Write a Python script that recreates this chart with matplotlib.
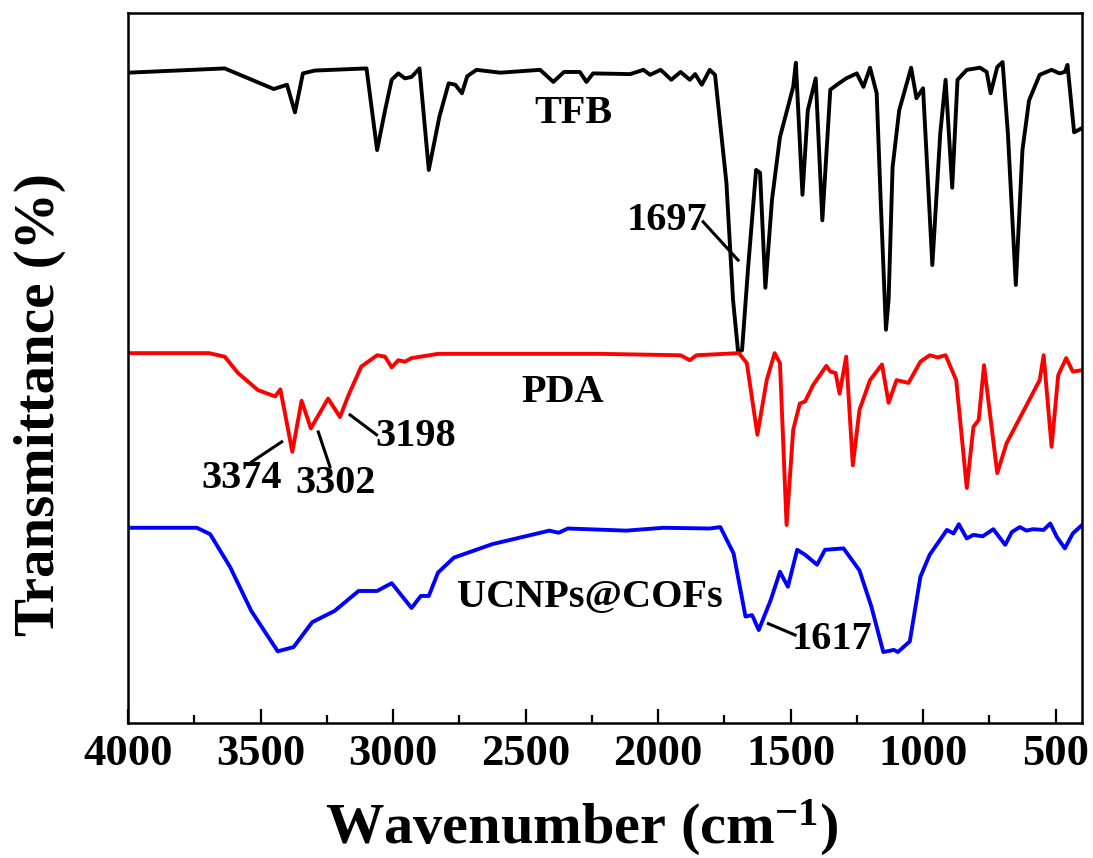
import matplotlib
matplotlib.use("Agg")
import matplotlib.pyplot as plt
from matplotlib.ticker import MultipleLocator

plt.rcParams['font.family'] = ['Liberation Serif', 'DejaVu Serif']
plt.rcParams['font.weight'] = 'bold'
plt.rcParams['mathtext.fontset'] = 'custom'
plt.rcParams['mathtext.rm'] = 'Liberation Serif:bold'
plt.rcParams['mathtext.default'] = 'rm'

# spectra (wavenumber in cm-1, transmittance with offsets, a.u.)
tfb_wn = [4000, 3635, 3450, 3400, 3370, 3340, 3295, 3100, 3060, 3030, 3005, 2980, 2955,
          2930, 2900, 2865, 2825, 2790, 2765, 2740, 2720, 2685, 2595, 2445, 2395, 2355,
          2295, 2270, 2245, 2105, 2055, 2030, 1990, 1950, 1915, 1880, 1860, 1835, 1805,
          1785, 1742, 1717, 1698, 1683, 1660, 1630, 1615, 1595, 1570, 1540, 1490, 1480,
          1455, 1435, 1405, 1380, 1350, 1325, 1290, 1250, 1225, 1200, 1175, 1160, 1140,
          1130, 1115, 1090, 1045, 1025, 1000, 965, 935, 915, 890, 870, 835, 785, 760,
          745, 720, 700, 680, 650, 625, 600, 560, 515, 485, 465, 455, 430, 400]
tfb_t = [91.6, 92.2, 89.3, 89.9, 86.0, 91.5, 91.9, 92.2, 80.7, 86.3, 90.6, 91.5, 90.8,
         91.0, 92.2, 77.9, 85.4, 90.1, 89.9, 88.7, 91.1, 92.0, 91.6, 92.0, 90.3, 91.7,
         91.7, 90.3, 91.5, 91.4, 92.0, 91.3, 92.0, 90.6, 91.7, 90.6, 91.4, 89.9, 92.0,
         91.3, 76.1, 59.6, 52.3, 52.5, 64.2, 77.9, 77.5, 61.3, 73.7, 82.5, 89.6, 93.0,
         74.4, 86.3, 90.8, 70.8, 89.2, 89.9, 90.8, 91.5, 89.6, 92.3, 88.7, 73.7, 55.4,
         59.6, 78.3, 86.3, 92.3, 88.0, 89.4, 64.5, 83.1, 90.6, 75.4, 90.6, 92.0, 92.3, 91.7,
         88.7, 92.4, 93.1, 83.1, 61.7, 80.7, 87.7, 91.3, 92.0, 91.5, 91.7, 92.7, 83.2, 83.8]

pda_wn = [4000, 3695, 3635, 3585, 3510, 3445, 3425, 3380, 3345, 3310, 3245, 3200, 3170,
          3120, 3060, 3030, 3005, 2980, 2955, 2930, 2830, 2565, 2220, 1915, 1880, 1855,
          1695, 1665, 1625, 1590, 1560, 1540, 1515, 1490, 1465, 1445, 1415, 1365, 1350,
          1330, 1315, 1290, 1265, 1240, 1200, 1155, 1130, 1100, 1055, 1010, 975, 945, 915,
          875, 835, 810, 790, 770, 720, 685, 560, 545, 515, 490, 460, 435, 400]
pda_t = [52.1, 52.1, 51.6, 49.3, 46.9, 46.0, 47.0, 38.2, 45.4, 41.5, 45.7, 43.1, 46.0,
         50.2, 51.8, 51.6, 50.1, 51.1, 50.9, 51.4, 52.0, 52.0, 52.0, 51.8, 51.1, 51.8,
         52.1, 50.7, 40.6, 48.3, 52.1, 50.7, 27.9, 41.3, 45.0, 45.3, 47.6, 50.3, 49.5,
         49.3, 46.4, 51.6, 36.3, 44.1, 48.3, 50.5, 45.1, 48.3, 47.9, 50.9, 51.8, 51.5, 51.8,
         48.3, 33.1, 41.7, 42.7, 50.4, 35.2, 39.4, 48.3, 51.8, 38.9, 49.0, 51.4, 49.5, 49.7]

cof_wn = [4000, 3740, 3690, 3615, 3535, 3435, 3375, 3305, 3220, 3130, 3060, 3005, 2930,
          2895, 2865, 2830, 2770, 2625, 2410, 2375, 2340, 2120, 1980, 1805, 1765, 1715,
          1670, 1645, 1620, 1575, 1540, 1510, 1475, 1445, 1400, 1370, 1300, 1240, 1195,
          1150, 1110, 1095, 1050, 1010, 975, 910, 885, 865, 835, 810, 775, 735, 690, 665,
          635, 610, 585, 545, 520, 495, 465, 435, 400]
cof_t = [27.5, 27.5, 26.6, 22.0, 15.8, 10.1, 10.7, 14.2, 15.8, 18.6, 18.6, 19.7, 16.2,
         17.9, 17.9, 21.2, 23.3, 25.2, 27.1, 26.8, 27.4, 27.1, 27.5, 27.4, 27.6, 23.9,
         15.0, 15.2, 13.1, 17.3, 21.3, 19.2, 24.4, 23.7, 22.3, 24.4, 24.6, 21.5, 16.4,
         10.0, 10.3, 10.0, 11.5, 20.6, 23.7, 27.2, 26.7, 28.0, 26.0, 26.5, 26.3, 27.3, 25.1,
         26.9, 27.6, 27.1, 27.3, 27.2, 28.1, 26.2, 24.6, 26.7, 27.9]

# curve names and peak labels: (text, text position, line start, line end)
names = ['TFB', 'PDA', 'UCNPs@COFs']
name_pos = [(2320, 85.8), (2358, 46.5), (2256, 17.7)]
peaks = [('1697', (1966, 70.8), (1830, 70.6), (1698, 65.2)),
         ('3374', (3572, 34.5), (3533, 36.8), (3420, 39.6)),
         ('3302', (3218, 33.7), (3282, 41.0), (3238, 36.1)),
         ('3198', (2916, 40.4), (3162, 43.4), (3062, 40.6)),
         ('1617', (1344, 11.8), (1584, 14.0), (1483, 12.4))]

fig = plt.figure(figsize=(10.93, 8.58), dpi=100)
ax = fig.add_axes([0.1171, 0.1573, 0.8729, 0.8275])

ax.plot(tfb_wn, tfb_t, color='black', lw=2.8, solid_joinstyle='round')
ax.plot(pda_wn, pda_t, color='#ff0000', lw=2.8, solid_joinstyle='round')
ax.plot(cof_wn, cof_t, color='#0000ff', lw=2.8, solid_joinstyle='round')

for name, (x, y) in zip(names, name_pos):
    ax.text(x, y, name, fontsize=29, fontweight='bold', ha='center', va='center')

for label, (tx, ty), (x0, y0), (x1, y1) in peaks:
    ax.text(tx, ty, label, fontsize=29, fontweight='bold', ha='center', va='center')
    ax.plot([x0, x1], [y0, y1], color='black', lw=2.2)

ax.set_xlim(4000, 400)
ax.set_ylim(0, 100)
ax.xaxis.set_major_locator(MultipleLocator(500))
ax.xaxis.set_minor_locator(MultipleLocator(250))
ax.tick_params(axis='x', which='major', direction='in', length=10, width=1.6,
               labelsize=32, pad=8, top=False)
ax.tick_params(axis='x', which='minor', direction='in', length=5.5, width=1.6, top=False)
ax.set_yticks([])
for s in ax.spines.values():
    s.set_linewidth(1.8)
for lab in ax.get_xticklabels():
    lab.set_fontweight('bold')

fig.text(582 / 1093, 1 - 828 / 858, r'Wavenumber (cm$^{-1}$)', fontsize=42,
         fontweight='bold', ha='center', va='center')
fig.text(40 / 1093, 1 - 405 / 858, 'Transmittance (%)', fontsize=41,
         fontweight='bold', ha='center', va='center', rotation=90)

fig.savefig('out.png', dpi=100)
